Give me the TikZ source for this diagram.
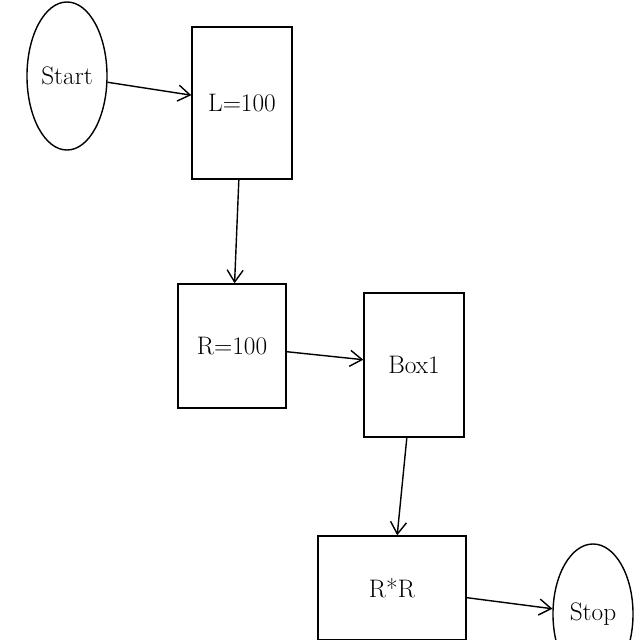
\documentclass[tikz,border=0pt]{standalone}
\usepackage{tikz}
\usetikzlibrary{arrows.meta, shapes.geometric}

\begin{document}
\begin{tikzpicture}[x=0.025cm, y=-0.025cm,
  termnode/.style={ellipse, draw=black, line width=1pt, inner sep=0pt,
    font=\fontsize{18}{20}\selectfont},
  procbox/.style={rectangle, draw=black, line width=1pt, inner sep=0pt,
    font=\fontsize{18}{20}\selectfont},
  arr/.style={-{Straight Barb[length=3mm, width=4mm]}, line width=1pt}
]
  \useasboundingbox (0,0) rectangle (640,640);

  \node[termnode, minimum width=2cm,   minimum height=3.7cm]  (start) at (67, 76)  {Start};
  \node[procbox,  minimum width=2.5cm, minimum height=3.8cm]  (lset)  at (242,103) {L=100};
  \node[procbox,  minimum width=2.7cm, minimum height=3.1cm]  (rset)  at (232,346) {R=100};
  \node[procbox,  minimum width=2.5cm, minimum height=3.6cm]  (box1)  at (414,365) {Box1};
  \node[procbox,  minimum width=3.7cm, minimum height=2.6cm]  (rmul)  at (392,588) {R*R};
  \node[termnode, minimum width=2cm,   minimum height=3.5cm]  (stop)  at (593,614) {Stop};

  \draw[arr] (start) -- (lset);
  \draw[arr] (lset)  -- (rset);
  \draw[arr] (rset)  -- (box1);
  \draw[arr] (box1)  -- (rmul);
  \draw[arr] (rmul)  -- (stop);
\end{tikzpicture}
\end{document}
